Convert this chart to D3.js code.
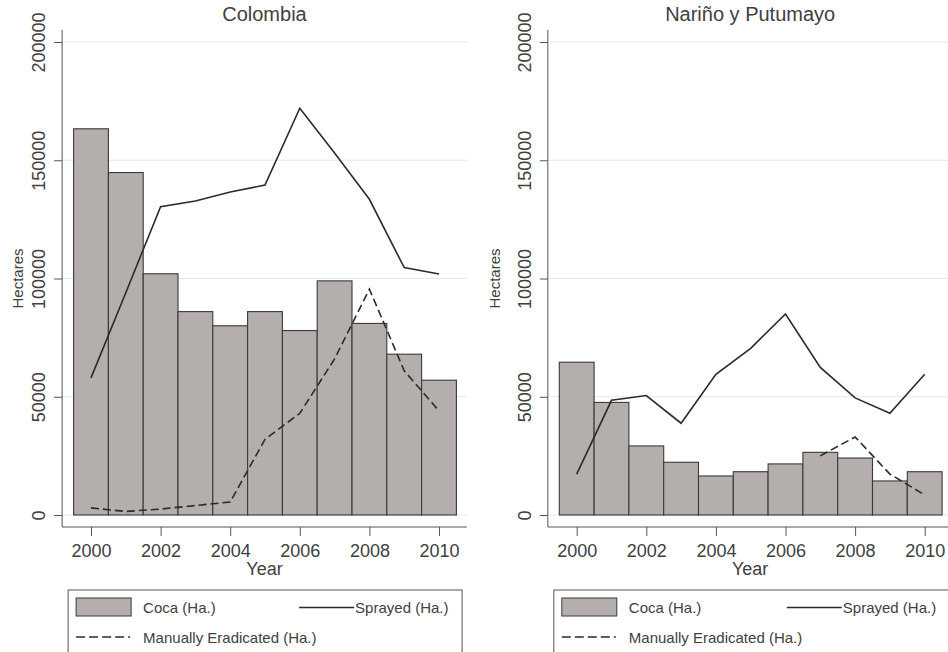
<!DOCTYPE html>
<html>
<head>
<meta charset="utf-8">
<script src="https://cdn.jsdelivr.net/npm/d3@7"></script>
<style>
  html, body { margin: 0; padding: 0; background: #fff; }
  svg { display: block; font-family: "Liberation Sans", Arial, sans-serif; }
</style>
</head>
<body>
<div id="chart"></div>
<script>
// Years on the x axis
const years = [2000, 2001, 2002, 2003, 2004, 2005, 2006, 2007, 2008, 2009, 2010];
const yearTicks = [2000, 2002, 2004, 2006, 2008, 2010];
const yTicks = [0, 50000, 100000, 150000, 200000];

// Colombia (hectares)
const colCoca = [163300, 144800, 102000, 86000, 80000, 86000, 78000, 99000, 81000, 68000, 57000];
const colSprayed = [58000, 94000, 130400, 132800, 136600, 139500, 172000, 153100, 133500, 104600, 101900];
const colManual = [3000, 1500, 2500, 4000, 5500, 32000, 43000, 66000, 95500, 61000, 44000];

// Nariño y Putumayo (hectares)
const npCoca = [64600, 47600, 29200, 22300, 16500, 18300, 21600, 26500, 24100, 14400, 18300];
const npSprayed = [17300, 48500, 50500, 38800, 59500, 70500, 85000, 62400, 49500, 43000, 59500];
const npManual = [null, null, null, null, null, null, null, 25000, 33000, 17300, 8500];

const legendLabels = ["Coca (Ha.)", "Sprayed (Ha.)", "Manually Eradicated (Ha.)"];

const width = 948, height = 652;
const textColor = "#404040";
const axisColor = "#555";
const barFill = "#b4aeac";
const gridColor = "#e3e9eb";

const svg = d3.select("#chart")
    .append("svg")
    .attr("width", width)
    .attr("height", height)
    .attr("viewBox", [0, 0, width, height]);

// y scale shared by both panels
const y = d3.scaleLinear().domain([0, 200000]).range([515, 42]);
const axisTop = 30, axisBottom = 527;

const panels = [
    { title: "Colombia", x2000: 91, hectX: -39, legendW: 394, coca: colCoca, sprayed: colSprayed, manual: colManual },
    { title: "Nariño y Putumayo", x2000: 576.7, hectX: -48, legendW: 396, coca: npCoca, sprayed: npSprayed, manual: npManual }
];

function drawPanel(p) {
    const x = d3.scaleLinear().domain([2000, 2010]).range([p.x2000, p.x2000 + 348]);
    const x0 = x(1999.17), x1 = x(2010.8);
    const g = svg.append("g");

    // gridlines
    g.append("g")
        .selectAll("line")
        .data(yTicks)
        .join("line")
        .attr("x1", x0).attr("x2", x1)
        .attr("y1", d => y(d)).attr("y2", d => y(d))
        .attr("stroke", gridColor)
        .attr("stroke-width", 1);

    // coca bars
    g.append("g")
        .selectAll("rect")
        .data(years.map((yr, i) => ({ yr, v: p.coca[i] })))
        .join("rect")
        .attr("x", d => x(d.yr - 0.5))
        .attr("width", d => x(d.yr + 0.5) - x(d.yr - 0.5))
        .attr("y", d => y(d.v))
        .attr("height", d => y(0) - y(d.v))
        .attr("fill", barFill)
        .attr("stroke", "#3a3a3a")
        .attr("stroke-width", 1.1);

    const line = d3.line()
        .defined(d => d.v != null)
        .x(d => x(d.yr))
        .y(d => y(d.v));

    // sprayed
    g.append("path")
        .datum(years.map((yr, i) => ({ yr, v: p.sprayed[i] })))
        .attr("d", line)
        .attr("fill", "none")
        .attr("stroke", "#2b2b2b")
        .attr("stroke-width", 1.6);

    // manually eradicated
    g.append("path")
        .datum(years.map((yr, i) => ({ yr, v: p.manual[i] })))
        .attr("d", line)
        .attr("fill", "none")
        .attr("stroke", "#2b2b2b")
        .attr("stroke-width", 1.6)
        .attr("stroke-dasharray", "8,4");

    // y axis
    const yAxis = g.append("g")
        .attr("transform", `translate(${x0},0)`)
        .call(d3.axisLeft(y).tickValues(yTicks).tickFormat(d3.format("d")).tickSize(8));
    yAxis.select(".domain").remove();
    yAxis.selectAll(".tick line").attr("stroke", axisColor);
    yAxis.selectAll(".tick text")
        .attr("transform", "rotate(-90)")
        .attr("x", 0).attr("y", -17).attr("dy", 0)
        .attr("text-anchor", "middle")
        .attr("fill", textColor)
        .style("font-size", "18px");
    g.append("line")
        .attr("x1", x0).attr("x2", x0)
        .attr("y1", axisTop).attr("y2", axisBottom)
        .attr("stroke", axisColor);

    // x axis
    const xAxis = g.append("g")
        .attr("transform", `translate(0,${axisBottom})`)
        .call(d3.axisBottom(x).tickValues(yearTicks).tickFormat(d3.format("d")).tickSize(9));
    xAxis.select(".domain").remove();
    xAxis.selectAll(".tick line").attr("stroke", axisColor);
    xAxis.selectAll(".tick text")
        .attr("y", 17)
        .attr("fill", textColor)
        .style("font-size", "18px");
    g.append("line")
        .attr("x1", x0).attr("x2", x1)
        .attr("y1", axisBottom).attr("y2", axisBottom)
        .attr("stroke", axisColor);

    // titles
    g.append("text")
        .attr("x", (x0 + x1) / 2).attr("y", 21)
        .attr("text-anchor", "middle")
        .attr("fill", textColor)
        .style("font-size", "20px")
        .text(p.title);
    g.append("text")
        .attr("x", (x0 + x1) / 2).attr("y", 575)
        .attr("text-anchor", "middle")
        .attr("fill", textColor)
        .style("font-size", "18px")
        .text("Year");
    g.append("text")
        .attr("transform", `translate(${x0 + p.hectX},${(y(0) + y(200000)) / 2}) rotate(-90)`)
        .attr("text-anchor", "middle")
        .attr("fill", textColor)
        .style("font-size", "15px")
        .text("Hectares");

    // legend
    const lx = x0 + 6, lw = p.legendW;
    const lg = g.append("g").attr("transform", `translate(${lx},590)`);
    lg.append("rect")
        .attr("width", lw).attr("height", 80)
        .attr("fill", "#fff")
        .attr("stroke", axisColor);
    lg.append("rect")
        .attr("x", 8).attr("y", 8).attr("width", 55).attr("height", 18)
        .attr("fill", barFill).attr("stroke", "#3a3a3a");
    lg.append("text")
        .attr("x", 75).attr("y", 22.5)
        .attr("fill", textColor).style("font-size", "15px")
        .text(legendLabels[0]);
    lg.append("line")
        .attr("x1", lw - 163).attr("x2", lw - 108)
        .attr("y1", 17.5).attr("y2", 17.5)
        .attr("stroke", "#2b2b2b").attr("stroke-width", 1.6);
    lg.append("text")
        .attr("x", lw - 107).attr("y", 22.5)
        .attr("fill", textColor).style("font-size", "15px")
        .text(legendLabels[1]);
    lg.append("line")
        .attr("x1", 8).attr("x2", 62)
        .attr("y1", 47).attr("y2", 47)
        .attr("stroke", "#2b2b2b").attr("stroke-width", 1.6)
        .attr("stroke-dasharray", "9,4");
    lg.append("text")
        .attr("x", 75).attr("y", 52.5)
        .attr("fill", textColor).style("font-size", "15px")
        .text(legendLabels[2]);
}

panels.forEach(drawPanel);
</script>
</body>
</html>
